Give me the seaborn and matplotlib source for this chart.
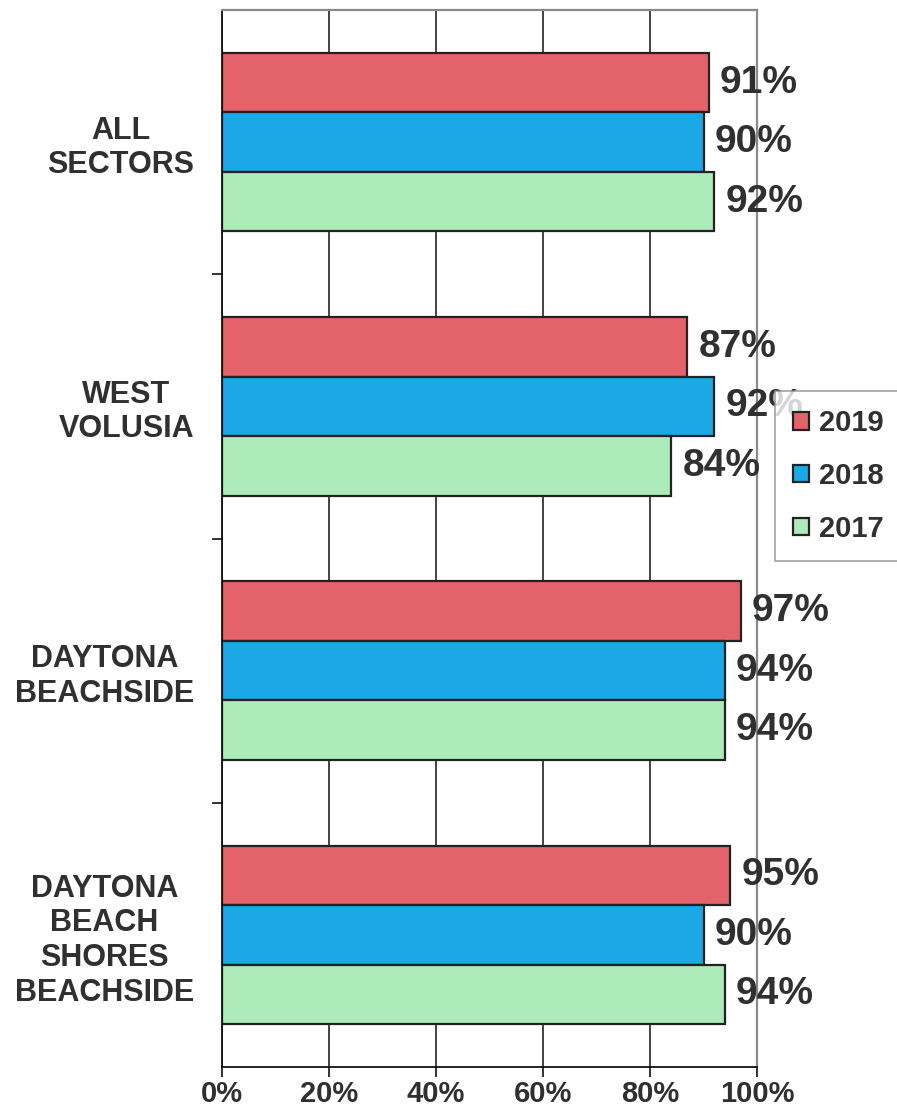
import matplotlib
matplotlib.use("Agg")
import matplotlib.pyplot as plt
import matplotlib.patches as mpatches
from matplotlib.ticker import FixedLocator
import seaborn as sns
import pandas as pd

# ---- data ----
categories = ["ALL\nSECTORS", "WEST\nVOLUSIA", "DAYTONA\nBEACHSIDE",
              "DAYTONA\nBEACH\nSHORES\nBEACHSIDE"]
years = ["2019", "2018", "2017"]
values_2019 = [91, 87, 97, 95]
values_2018 = [90, 92, 94, 90]
values_2017 = [92, 84, 94, 94]
x_ticks = [0, 20, 40, 60, 80, 100]
x_tick_labels = ["0%", "20%", "40%", "60%", "80%", "100%"]
colors = {"2019": "#E4636A", "2018": "#1CA7E7", "2017": "#ACEBB9"}

sns.set_theme(style="white")
plt.rcParams["font.family"] = ["Liberation Sans", "DejaVu Sans"]
plt.rcParams["font.weight"] = "bold"
TXT = "#303030"

rows = []
for yr, vals in zip(years, [values_2019, values_2018, values_2017]):
    for c, v in zip(categories, vals):
        rows.append({"sector": c, "year": yr, "value": v})
df = pd.DataFrame(rows)

W, H = 897, 1109
fig = plt.figure(figsize=(W / 100, H / 100), dpi=100)
ax = fig.add_axes([222 / W, (H - 1067) / H, (757 - 222) / W, (1067 - 10) / H])

sns.barplot(data=df, y="sector", x="value", hue="year", hue_order=years,
            order=categories, palette=colors, width=0.675, orient="h",
            edgecolor="#222222", linewidth=1.6, saturation=1, ax=ax)
if ax.get_legend() is not None:
    ax.get_legend().remove()

ax.set_xlim(0, 100)
ax.set_ylim(3.5, -0.5)
ax.set_xlabel("")
ax.set_ylabel("")

ax.set_axisbelow(True)
ax.xaxis.grid(True, color="#111111", linewidth=1.1)
ax.yaxis.grid(False)

for s in ["left", "bottom"]:
    ax.spines[s].set_color("#111111")
    ax.spines[s].set_linewidth(1.3)
for s in ["top", "right"]:
    ax.spines[s].set_color("#8a8a8a")
    ax.spines[s].set_linewidth(1.6)

ax.set_xticks(x_ticks)
ax.set_xticklabels(x_tick_labels)
ax.tick_params(axis="x", bottom=True, length=7, width=1.2, color="#111111",
               direction="out", pad=2, labelsize=21, labelcolor=TXT)
ax.tick_params(axis="y", which="major", left=False, length=0, pad=20,
               labelsize=22, labelcolor=TXT)
ax.yaxis.set_minor_locator(FixedLocator([0.5, 1.5, 2.5]))
ax.tick_params(axis="y", which="minor", left=True, length=7, width=1.2,
               color="#111111", direction="out")
for lbl in ax.get_yticklabels():
    lbl.set_multialignment("center")
    lbl.set_fontweight("bold")
for lbl in ax.get_xticklabels():
    lbl.set_fontweight("bold")

for cont in ax.containers:
    ax.bar_label(cont, fmt="{:.0f}%", padding=8, fontsize=28,
                 fontweight="bold", color=TXT)

handles = [mpatches.Patch(facecolor=colors[y], edgecolor="#222222",
                          linewidth=1.6, label=y) for y in years]
leg = fig.legend(handles=handles, loc="upper left",
                 bbox_to_anchor=(775 / W, 1 - 391 / H), borderaxespad=0,
                 fontsize=21, frameon=True, fancybox=False,
                 handlelength=0.55, handleheight=0.55, handletextpad=0.35,
                 labelspacing=0.85, borderpad=0.62)
leg.get_frame().set_edgecolor("#8a8a8a")
leg.get_frame().set_linewidth(1.2)
for t in leg.get_texts():
    t.set_color(TXT)
    t.set_fontweight("bold")

fig.savefig("out.png", dpi=100)
